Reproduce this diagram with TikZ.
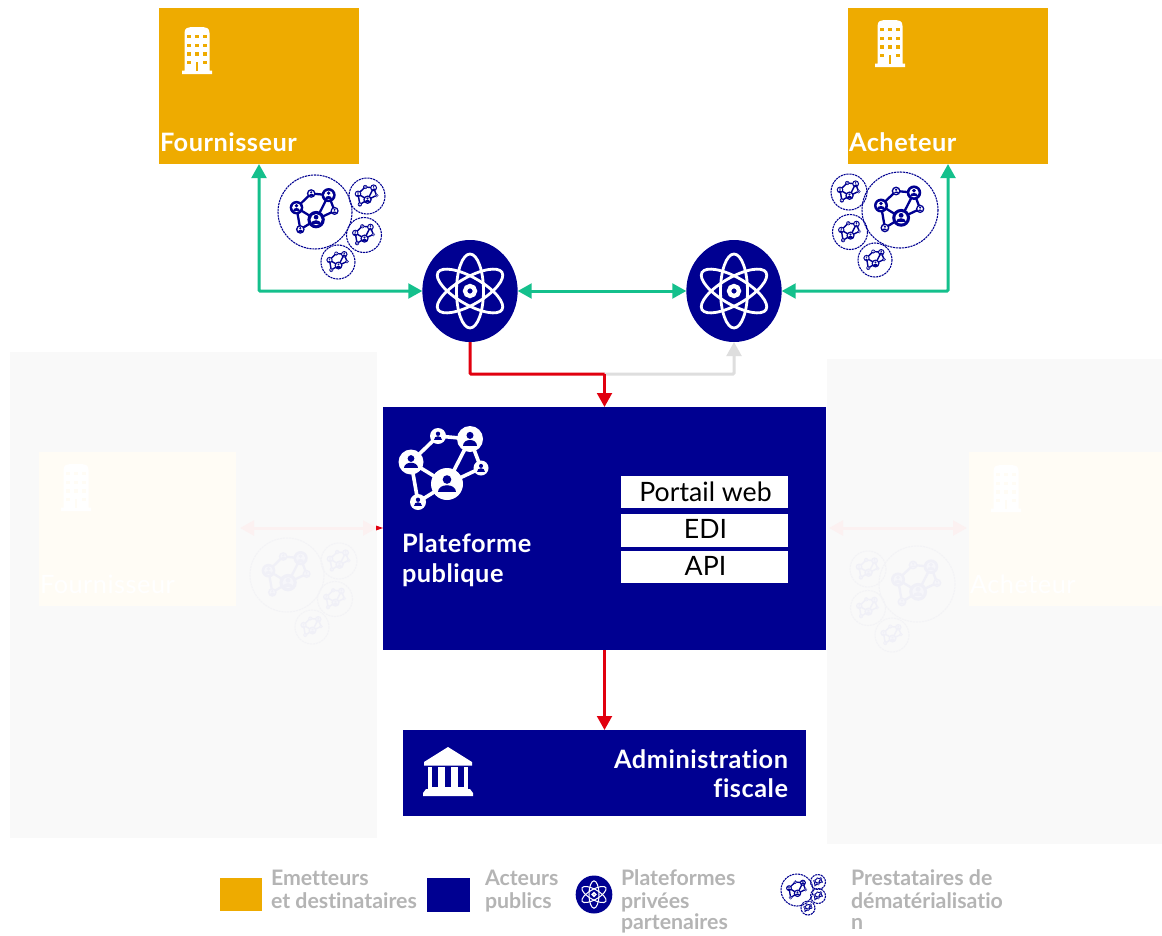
\documentclass[tikz,border=0pt]{standalone}
\usepackage{fontspec}
\setmainfont{Lato}[Ligatures=CommonOff]
\newfontfamily\labfont{Lato}[LetterSpace=2,Ligatures=CommonOff]
\usetikzlibrary{arrows.meta,shapes.geometric}
\definecolor{orangeb}{HTML}{EEAB00}
\definecolor{navyb}{HTML}{000091}
\definecolor{greenb}{HTML}{14C08C}
\definecolor{redb}{HTML}{E1000F}
\definecolor{grayb}{HTML}{DEDEDE}
\definecolor{legendt}{HTML}{B4B4B4}
\definecolor{ghostbg}{HTML}{F9F9F9}
\definecolor{ghostbox}{HTML}{FFFCF5}
\definecolor{ghostnet}{HTML}{F0F0F7}
\definecolor{ghostin}{HTML}{F6F6FA}
\definecolor{ghostring}{HTML}{F3F3F6}
\definecolor{ghostred}{HTML}{FCF1F1}
\tikzset{
  every node/.style={inner sep=0pt,outer sep=0pt},
  orangebox/.style={rectangle,fill=orangeb,minimum width=150pt,minimum height=117pt},
  whitebox/.style={rectangle,fill=white,text=black,minimum width=125.25pt,minimum height=24.4pt},
  whitetext/.style={text=black,font=\fontsize{20}{22}\selectfont},
  atomdisc/.style={ellipse,fill=navyb,minimum width=71.5pt,minimum height=76.5pt},
  boldlab/.style={text=white,font=\labfont\fontsize{19}{22}\selectfont\bfseries},
  ghostlab/.style={text=white,font=\labfont\fontsize{19}{22}\selectfont},
  legtext/.style={text=legendt,font=\fontsize{16}{18}\selectfont\bfseries},
  greenline/.style={draw=greenb,line width=2.25pt,{Triangle[length=10.5pt,width=11pt]}-{Triangle[length=10.5pt,width=11pt]},rounded corners=0.8pt},
  redline/.style={draw=redb,line width=2.25pt,-{Triangle[length=10.5pt,width=11pt]},rounded corners=0.8pt},
  grayline/.style={draw=grayb,line width=2.25pt,-{Triangle[length=10.5pt,width=11pt]},rounded corners=0.8pt},
  ghostline/.style={draw=ghostred,line width=2.25pt,{Triangle[length=10.5pt,width=11pt]}-{Triangle[length=10.5pt,width=11pt]}},
}
% person-in-a-disc: x y r
\newcommand{\netnode}[3]{%
  \begin{scope}[shift={(#1,#2)},scale=#3]
    \fill[\netF] (0,0) circle [radius=1];
    \fill[\netI] (0,0) circle [radius=.64];
    \fill[\netP] (0,-.28) circle [radius=.27];
    \fill[\netP] (-.55,.5) .. controls (-.55,-.08) and (.55,-.08) .. (.55,.5) -- cycle;
  \end{scope}}
% network icon: x y scale outer inner person
\newcommand{\netico}[6]{%
  \begin{scope}[shift={(#1,#2)},scale=#3]
    \def\netF{#4}\def\netI{#5}\def\netP{#6}%
    \pgfmathsetmacro{\nw}{2.2*#3+.5}
    \draw[draw=#4,line width=\nw pt]
      (-34,-8) -- (-7,-34) -- (25,-31) -- (36,-2) -- (2,14) -- (-34,-8) -- (-27,32) -- (2,14) -- (25,-31);
    \netnode{-34}{-8}{12.5}
    \netnode{-7}{-34}{8}
    \netnode{25}{-31}{13}
    \netnode{36}{-2}{7.5}
    \netnode{2}{14}{16}
    \netnode{-27}{32}{8}
  \end{scope}}
% dashed ring with network: x y r ringcolour outer inner person
\newcommand{\netring}[7]{%
  \draw[draw=#4,line width=.8pt,dash pattern=on 1.6pt off .6pt] (#1,#2) circle [radius=#3];
  \pgfmathsetmacro{\rs}{#3/68}
  \netico{#1}{#2}{\rs}{#5}{#6}{#7}}
\newcommand{\navyring}[3]{\netring{#1}{#2}{#3}{navyb}{navyb}{white}{navyb}}
\newcommand{\fadedring}[3]{\netring{#1}{#2}{#3}{ghostring}{ghostnet}{ghostin}{ghostnet}}
% building: centre x, top y, colour, window colour
\newcommand{\bldg}[4]{%
  \begin{scope}[shift={(#1,#2)}]
    \fill[#3] (-15,47) -- (-15,43.5) -- (-12.5,43.5) -- (-12.5,6) .. controls (-12.5,1) and (-9,0) .. (-6,0)
      -- (6,0) .. controls (9,0) and (12.5,1) .. (12.5,6) -- (12.5,43.5) -- (15,43.5) -- (15,47) -- cycle;
    \foreach \wy in {9.5,18.5,27,35.5}{\foreach \wx in {-8,0,8}{
      \fill[#4] (\wx-1.8,\wy-1.8) rectangle (\wx+1.8,\wy+1.8);}}
    \fill[#3] (-1.8,33.5) rectangle (1.8,37.5);
    \fill[#4] (-1.1,35) rectangle (1.1,43.5);
  \end{scope}}
% atom: x y scale
\newcommand{\atomico}[3]{%
  \begin{scope}[shift={(#1,#2)},scale=#3]
    \pgfmathsetmacro{\aw}{2.1*#3}
    \foreach \ang in {0,60,120}{
      \draw[white,line width=\aw pt,rotate=\ang] (0,0) circle [x radius=13.5,y radius=37];}
    \pgfmathsetmacro{\bw}{3.2*#3}
    \draw[white,line width=\bw pt] (0,0) circle [radius=5];
  \end{scope}}
\begin{document}
\begin{tikzpicture}[x=0.75pt,y=-0.75pt]
\useasboundingbox (0,0) rectangle (1162,935);
\fill[white] (0,0) rectangle (1162,935);

% ---- faded background blocks
\fill[ghostbg] (10,352) rectangle (377,838);
\fill[ghostbg] (827,359) rectangle (1162,844);
\fill[ghostbox] (39,452) rectangle (236,606);
\fill[ghostbox] (969,452) rectangle (1162,606);
\bldg{76}{464}{white}{ghostbox}
\bldg{1006}{465}{white}{ghostbox}
\node[ghostlab,anchor=base west] (gfourn) at (40,593) {Fournisseur};
\node[ghostlab,anchor=base west] (gach) at (970,593) {Acheteur};
\fadedring{287}{575}{37}
\fadedring{339}{561}{18}
\fadedring{335}{599}{17.5}
\fadedring{312}{627}{17}
\fadedring{917}{584}{38}
\fadedring{868}{569}{18}
\fadedring{868}{608}{17.5}
\fadedring{892}{635}{17}
\coordinate (gl1) at (240,528);
\coordinate (gl2) at (377,528);
\coordinate (gr1) at (829,528);
\coordinate (gr2) at (967,528);
\draw[ghostline] (gl1) -- (gl2);
\draw[ghostline] (gr1) -- (gr2);
\fill[redb] (376,525.5) -- (383,528) -- (376,530.5) -- cycle;

% ---- main nodes
\node[orangebox] (fourn) at (259,86) {};
\node[orangebox] (ach) at (948,86) {};
\node[atomdisc] (atomL) at (470,291) {};
\node[atomdisc] (atomR) at (734,291) {};
\node[rectangle,fill=navyb,minimum width=332.25pt,minimum height=182.25pt] (plat) at (604.5,528.5) {};
\node[rectangle,fill=navyb,minimum width=302.25pt,minimum height=64.5pt] (admin) at (604.5,773) {};
\node[whitebox] (portail) at (704.5,492) {};
\node[whitebox] (edi) at (704.5,530.5) {};
\node[whitebox] (api) at (704.5,567) {};

\bldg{197}{27}{white}{orangeb}
\bldg{890}{20}{white}{orangeb}
\atomico{470}{291}{1}
\atomico{734}{291}{1}

\node[boldlab,anchor=base west] (tfourn) at (160,151) {Fournisseur};
\node[boldlab,anchor=base west] (tach) at (849,151) {Acheteur};
\node[boldlab,anchor=base west] (tplat1) at (402,552) {Plateforme};
\node[boldlab,anchor=base west] (tplat2) at (402,582) {publique};
\node[boldlab,anchor=base east] (tadm1) at (788,768) {Administration};
\node[boldlab,anchor=base east] (tadm2) at (788,797) {fiscale};
\node[whitetext,anchor=base] (tportail) at (705.5,501) {Portail web};
\node[whitetext,anchor=base] (tedi) at (705.5,538) {EDI};
\node[whitetext,anchor=base] (tapi) at (705.5,575) {API};

% ---- icons
\netico{445}{470}{1}{white}{white}{navyb}
\navyring{315}{212}{37}
\navyring{367}{196}{18}
\navyring{364}{235}{17.5}
\navyring{338}{262}{17}
\navyring{900}{210}{38}
\navyring{849}{192}{18}
\navyring{850}{232}{17.5}
\navyring{875}{260}{17}
% temple
\fill[white] (448,747) -- (472,762) -- (472,765.5) -- (424,765.5) -- (424,762) -- cycle;
\fill[white] (428,767) rectangle (468,789);
\foreach \sx in {435,448,461}{\fill[navyb] (\sx-3,767) rectangle (\sx+3,787);}
\fill[white] (426,789) -- (470,789) -- (473,793) -- (473,796) -- (423,796) -- (423,793) -- cycle;

% ---- connectors
\coordinate (junction) at (604.5,374);
\draw[greenline] (fourn.south) |- (atomL.west);
\draw[greenline] (atomL.east) -- (atomR.west);
\draw[greenline] (ach.south) |- (atomR.east);
\draw[grayline] (junction) -| (atomR.south);
\draw[draw=redb,line width=2.25pt,rounded corners=0.8pt] (atomL.south) |- (junction);
\draw[redline] (junction) -- (plat.north);
\draw[redline] (plat.south) -- (admin.north);

% ---- legend
\node[rectangle,fill=orangeb,minimum width=31.5pt,minimum height=24.75pt] (legO) at (241,894.5) {};
\node[rectangle,fill=navyb,minimum width=32pt,minimum height=25.5pt] (legN) at (448.5,895) {};
\node[ellipse,fill=navyb,minimum width=27.5pt,minimum height=28.5pt] (legA) at (594,894.5) {};
\atomico{594}{894.5}{.37}
\navyring{797}{890}{16}
\navyring{818}{882}{7.5}
\navyring{818}{896}{7.5}
\navyring{808}{908}{7}
\node[legtext,anchor=base west] (l1a) at (271,885) {Emetteurs};
\node[legtext,anchor=base west] (l1b) at (271,908) {et destinataires};
\node[legtext,anchor=base west] (l2a) at (485,885) {Acteurs};
\node[legtext,anchor=base west] (l2b) at (485,908) {publics};
\node[legtext,anchor=base west] (l3a) at (621,885) {Plateformes};
\node[legtext,anchor=base west] (l3b) at (621,908) {privées};
\node[legtext,anchor=base west] (l3c) at (621,929) {partenaires};
\node[legtext,anchor=base west] (l4a) at (851,885) {Prestataires de};
\node[legtext,anchor=base west] (l4b) at (851,908) {dématérialisatio};
\node[legtext,anchor=base west] (l4c) at (851,929) {n};
\end{tikzpicture}
\end{document}
